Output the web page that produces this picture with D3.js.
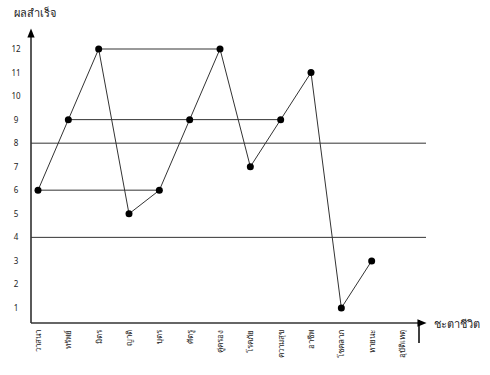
<!DOCTYPE html>
<html>
<head>
<meta charset="utf-8">
<script src="https://cdnjs.cloudflare.com/ajax/libs/d3/7.8.5/d3.min.js"></script>
<style>
  body { margin: 0; background: #fff; }
  text { font-family: "Noto Sans", "DejaVu Sans", sans-serif; fill: #222; }
</style>
</head>
<body>
<div id="chart"></div>
<script>
var svgWidth = 490;
var svgHeight = 375;

// categories (houses) and score of each
var houses = ["วาสนา", "ทรัพย์", "มิตร", "ญาติ", "บุตร", "ศัตรู", "คู่ครอง",
  "โรคภัย", "ความสุข", "อาชีพ", "โชคลาภ", "หายนะ", "อุบัติเหตุ"];
var scores = [6, 9, 12, 5, 6, 9, 12, 7, 9, 11, 1, 3, null];
var yTicks = [1, 2, 3, 4, 5, 6, 7, 8, 9, 10, 11, 12];
// reference levels drawn across the whole chart
var levels = [8, 4];
// pairs of houses joined by a flat line
var links = [["วาสนา", "บุตร"], ["ทรัพย์", "ความสุข"], ["มิตร", "คู่ครอง"]];

var data = houses.map((h, i) => ({ house: h, score: scores[i] }))
  .filter(d => d.score !== null);

var svg = d3.select("#chart").append("svg")
  .attr("width", svgWidth)
  .attr("height", svgHeight);

var x = d3.scalePoint().domain(houses).range([38, 402]);
var y = d3.scaleLinear().domain([1, 12]).range([308, 49]);

var axisX = 31, axisY = 323, rightEnd = 426;

svg.append("defs").append("marker")
  .attr("id", "arrow")
  .attr("viewBox", "0 0 10 10")
  .attr("refX", 5).attr("refY", 5)
  .attr("markerWidth", 7).attr("markerHeight", 7)
  .attr("orient", "auto")
  .append("path")
  .attr("d", "M0,1 L10,5 L0,9 z")
  .attr("fill", "#000");

// y axis with arrow
svg.append("line")
  .attr("x1", axisX).attr("y1", axisY)
  .attr("x2", axisX).attr("y2", 33)
  .attr("stroke", "#000").attr("stroke-width", 1.3)
  .attr("marker-end", "url(#arrow)");

// x axis with arrow
svg.append("line")
  .attr("x1", axisX).attr("y1", axisY)
  .attr("x2", 422).attr("y2", axisY)
  .attr("stroke", "#333").attr("stroke-width", 1.3)
  .attr("marker-end", "url(#arrow)");
svg.append("line")
  .attr("x1", 419).attr("y1", axisY - 3)
  .attr("x2", 419).attr("y2", 343)
  .attr("stroke", "#000").attr("stroke-width", 1.5);

// y tick labels
svg.selectAll(".ylab")
  .data(yTicks)
  .enter()
  .append("text")
  .attr("class", "ylab")
  .attr("x", 16)
  .attr("y", d => y(d) + 3)
  .attr("text-anchor", "middle")
  .style("font-size", "8px")
  .text(d => d);

// x labels, vertical
svg.selectAll(".xlab")
  .data(houses)
  .enter()
  .append("text")
  .attr("class", "xlab")
  .attr("transform", d => `translate(${x(d) + 3}, 330) rotate(-90)`)
  .attr("text-anchor", "end")
  .style("font-size", "8px")
  .text(d => d);

// axis titles
svg.append("text")
  .attr("x", 14).attr("y", 17)
  .style("font-size", "11px")
  .text("ผลสำเร็จ");
svg.append("text")
  .attr("x", 434).attr("y", 328)
  .style("font-size", "11px")
  .text("ชะตาชีวิต");

// level lines
svg.selectAll(".level")
  .data(levels)
  .enter()
  .append("line")
  .attr("x1", axisX).attr("x2", rightEnd)
  .attr("y1", d => y(d)).attr("y2", d => y(d))
  .attr("stroke", "#333").attr("stroke-width", 1);

// flat links
var scoreOf = {};
data.forEach(d => { scoreOf[d.house] = d.score; });
svg.selectAll(".link")
  .data(links)
  .enter()
  .append("line")
  .attr("x1", d => x(d[0])).attr("x2", d => x(d[1]))
  .attr("y1", d => y(scoreOf[d[0]])).attr("y2", d => y(scoreOf[d[1]]))
  .attr("stroke", (d, i) => i === 1 ? "#333" : "#777")
  .attr("stroke-width", (d, i) => i === 1 ? 1 : 1.6);

// main line
var line = d3.line().x(d => x(d.house)).y(d => y(d.score));
svg.append("path")
  .datum(data)
  .attr("d", line)
  .attr("fill", "none")
  .attr("stroke", "#333")
  .attr("stroke-width", 1);

// points
svg.selectAll(".pt")
  .data(data)
  .enter()
  .append("circle")
  .attr("cx", d => x(d.house))
  .attr("cy", d => y(d.score))
  .attr("r", 3.5)
  .attr("fill", "#000");
</script>
</body>
</html>
